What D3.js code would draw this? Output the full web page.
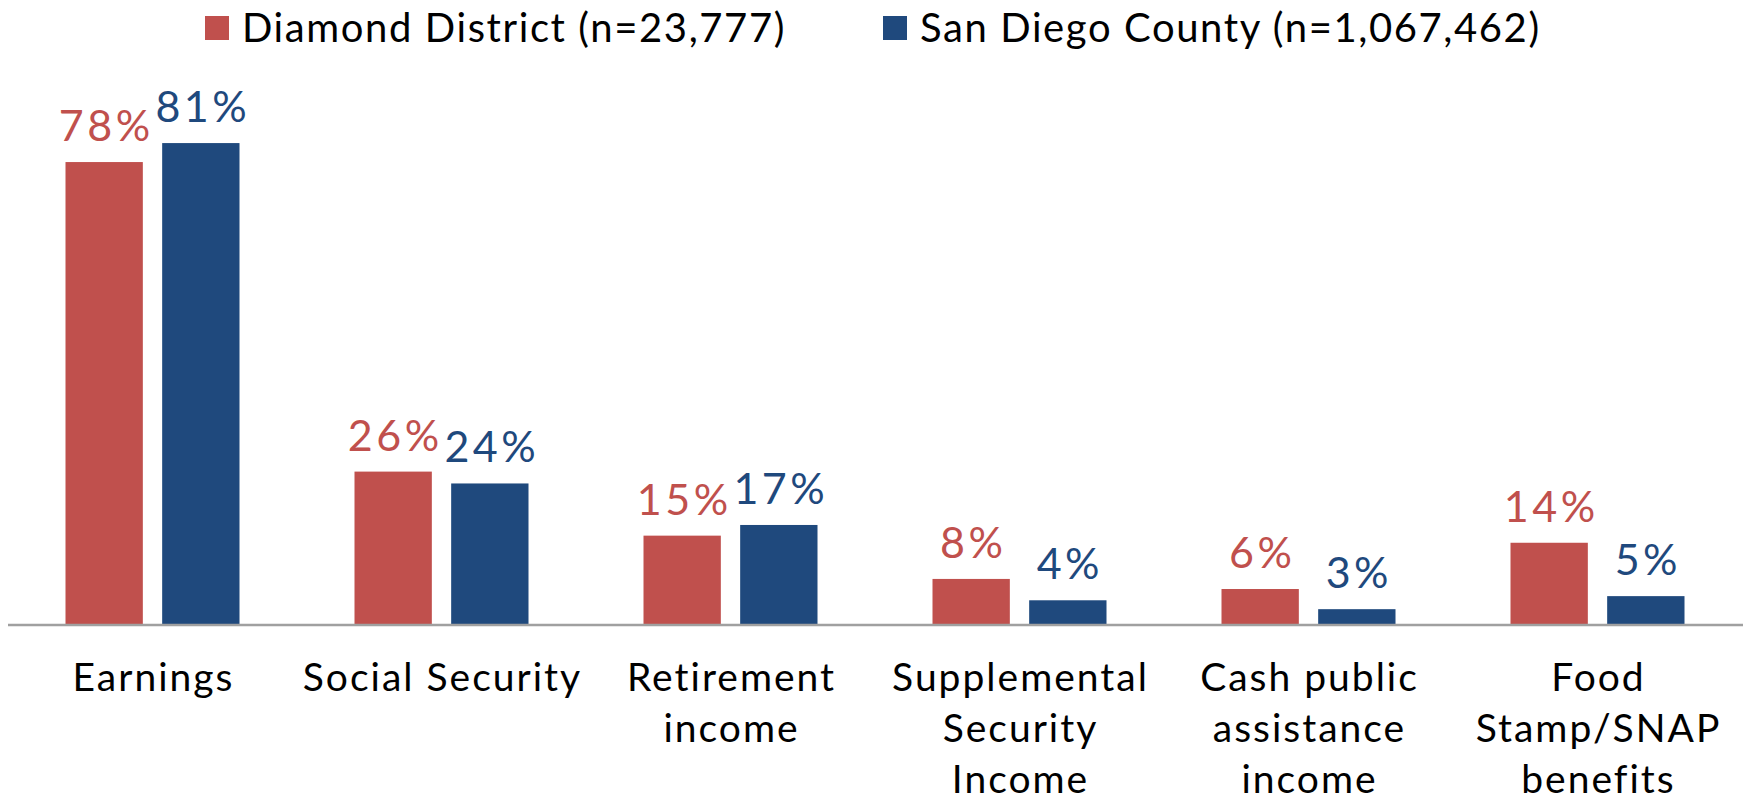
<!DOCTYPE html>
<html>
<head>
<meta charset="utf-8">
<script src="https://cdn.jsdelivr.net/npm/d3@7"></script>
<style>
  body { margin: 0; background: #fff; }
  svg { display: block; font-family: Futura, "Century Gothic", Lato, sans-serif; }
</style>
</head>
<body>
<svg id="chart" width="1743" height="801"></svg>
<script>
const width = 1743;
const height = 801;

// categories, multi-line labels
const categories = ["Earnings", "Social Security", "Retirement income", "Supplemental Security Income", "Cash public assistance income", "Food Stamp/SNAP benefits"];
const categoryLines = [
    ["Earnings"],
    ["Social Security"],
    ["Retirement", "income"],
    ["Supplemental", "Security", "Income"],
    ["Cash public", "assistance", "income"],
    ["Food", "Stamp/SNAP", "benefits"]
];

const seriesNames = ["Diamond District (n=23,777)", "San Diego County (n=1,067,462)"];
const diamond = [77.9, 25.7, 14.9, 7.6, 5.9, 13.7];
const sanDiego = [81.1, 23.7, 16.7, 4.0, 2.5, 4.7];
const colors = ["#C0504D", "#1F497D"];

const svg = d3.select("#chart");

const baseY = 624;
const x0 = d3.scaleBand().domain(categories).range([8, 1742]).padding(0);
const x1 = d3.scaleBand().domain([0, 1]).range([-87, 87]).paddingInner(0.2);
const y = d3.scaleLinear().domain([0, 100]).range([baseY, 31]);

const rows = categories.map((c, i) => ({
    cat: c,
    vals: [diamond[i], sanDiego[i]]
}));

const groups = svg.append("g")
    .selectAll("g")
    .data(rows)
    .enter()
    .append("g")
    .attr("transform", d => `translate(${x0(d.cat) + x0.bandwidth() / 2},0)`);

groups.selectAll("rect")
    .data(d => d.vals.map((v, s) => ({ v, s })))
    .enter()
    .append("rect")
    .attr("x", d => x1(d.s))
    .attr("width", x1.bandwidth())
    .attr("y", d => y(d.v))
    .attr("height", d => baseY - y(d.v))
    .attr("fill", d => colors[d.s]);

// value labels above the bars
groups.selectAll("text.val")
    .data(d => d.vals.map((v, s) => ({ v, s })))
    .enter()
    .append("text")
    .attr("class", "val")
    .attr("x", d => x1(d.s) + x1.bandwidth() / 2 + 2)
    .attr("y", d => y(d.v) - 21)
    .attr("text-anchor", "middle")
    .attr("font-size", 43)
    .attr("letter-spacing", 3.5)
    .attr("fill", d => colors[d.s])
    .text(d => Math.round(d.v) + "%");

// axis line
svg.append("line")
    .attr("x1", 8)
    .attr("x2", width)
    .attr("y1", baseY + 1)
    .attr("y2", baseY + 1)
    .attr("stroke", "#a0a0a0")
    .attr("stroke-width", 2.5);

// category labels
const labels = svg.append("g")
    .selectAll("text")
    .data(categories)
    .enter()
    .append("text")
    .attr("x", d => x0(d) + x0.bandwidth() / 2 + 1)
    .attr("y", 691)
    .attr("text-anchor", "middle")
    .attr("font-size", 39)
    .attr("letter-spacing", 2)
    .attr("fill", "#000");

labels.selectAll("tspan")
    .data((d, i) => categoryLines[i])
    .enter()
    .append("tspan")
    .attr("x", function() { return d3.select(this.parentNode).attr("x"); })
    .attr("dy", (d, i) => i === 0 ? 0 : 51)
    .text(d => d);

// legend
const legendX = [205, 883];
const legend = svg.append("g")
    .selectAll("g")
    .data(seriesNames)
    .enter()
    .append("g")
    .attr("transform", (d, i) => `translate(${legendX[i]},16)`);

legend.append("rect")
    .attr("width", 24)
    .attr("height", 24)
    .attr("fill", (d, i) => colors[i]);

legend.append("text")
    .attr("x", 37)
    .attr("y", 26)
    .attr("font-size", 40)
    .attr("letter-spacing", 1.6)
    .attr("fill", "#000")
    .text(d => d);
</script>
</body>
</html>
